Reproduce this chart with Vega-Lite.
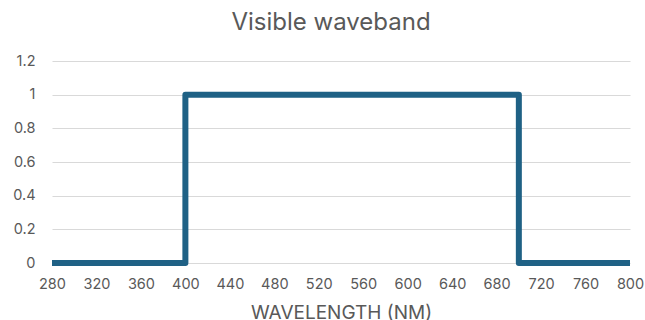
{
  "$schema": "https://vega.github.io/schema/vega-lite/v6.json",
  "width": 578,
  "height": 202,
  "autosize": {"type": "none"},
  "padding": {"left": 52, "top": 61, "right": 15, "bottom": 57},
  "background": "white",
  "title": {
    "text": "Visible waveband",
    "font": "Inter",
    "fontSize": 24,
    "fontWeight": "normal",
    "color": "#595959",
    "anchor": "middle",
    "offset": 18,
    "dx": -10
  },
  "config": {"view": {"stroke": null}},
  "data": {
    "values": [
      {"i": 0, "wavelength": 280, "value": 0},
      {"i": 1, "wavelength": 400, "value": 0},
      {"i": 2, "wavelength": 400, "value": 1},
      {"i": 3, "wavelength": 700, "value": 1},
      {"i": 4, "wavelength": 700, "value": 0},
      {"i": 5, "wavelength": 800, "value": 0}
    ]
  },
  "mark": {"type": "line", "color": "#1f6185", "strokeWidth": 6, "strokeJoin": "round", "strokeCap": "butt"},
  "encoding": {
    "x": {
      "field": "wavelength",
      "type": "quantitative",
      "scale": {"domain": [280, 800], "nice": false, "zero": false},
      "axis": {
        "values": [280, 320, 360, 400, 440, 480, 520, 560, 600, 640, 680, 720, 760, 800],
        "grid": false,
        "domain": false,
        "ticks": false,
        "labelFont": "Inter",
        "labelFontSize": 14.5,
        "labelColor": "#595959",
        "labelPadding": 14,
        "labelFlush": false,
        "title": "WAVELENGTH (NM)",
        "titleFont": "Inter",
        "titleFontSize": 19,
        "titleFontWeight": "normal",
        "titleColor": "#595959",
        "titlePadding": 13
      }
    },
    "y": {
      "field": "value",
      "type": "quantitative",
      "scale": {"domain": [0, 1.2], "nice": false},
      "axis": {
        "values": [0, 0.2, 0.4, 0.6, 0.8, 1, 1.2],
        "format": ".1~f",
        "grid": true,
        "gridColor": "#d9d9d9",
        "gridWidth": 1,
        "domain": false,
        "ticks": false,
        "labelFont": "Inter",
        "labelFontSize": 14.5,
        "labelColor": "#595959",
        "labelPadding": 17,
        "title": null
      }
    },
    "order": {"field": "i", "type": "quantitative"}
  }
}
